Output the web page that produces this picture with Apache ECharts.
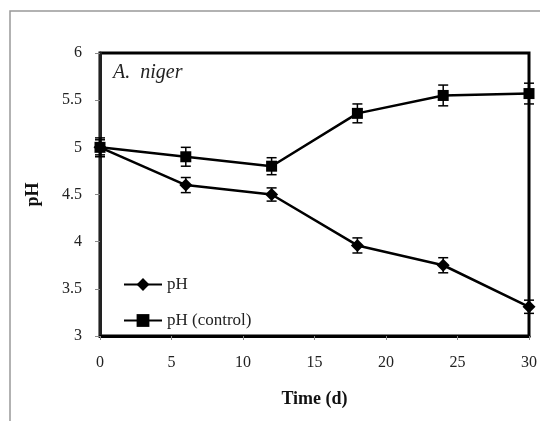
<!DOCTYPE html>
<html>
<head>
<meta charset="UTF-8">
<title></title>
<script src="https://cdn.jsdelivr.net/npm/echarts@6/dist/echarts.min.js"></script>
<style>
* { padding: 0; margin: 0; }
#main { width: 540px; height: 421px; background: #fff; }
</style>
</head>
<body>
<div id="main"></div>
<script>
var days = [0, 6, 12, 18, 24, 30];
var phValues = [5.0, 4.6, 4.5, 3.96, 3.75, 3.31];
var phErrors = [0.08, 0.08, 0.07, 0.08, 0.08, 0.07];
var controlValues = [5.0, 4.9, 4.8, 5.36, 5.55, 5.57];
var controlErrors = [0.1, 0.1, 0.09, 0.1, 0.11, 0.11];

var font = 'Liberation Serif';

function pairs(xs, ys) {
  return xs.map(function (x, i) { return [x, ys[i]]; });
}
function errData(xs, ys, es) {
  return xs.map(function (x, i) { return [x, ys[i] - es[i], ys[i] + es[i]]; });
}
function errRender(params, api) {
  var x = api.value(0);
  var lo = api.coord([x, api.value(1)]);
  var hi = api.coord([x, api.value(2)]);
  var w = 5;
  var st = { stroke: '#000', lineWidth: 1.5 };
  return {
    type: 'group',
    children: [
      { type: 'line', shape: { x1: lo[0], y1: lo[1], x2: hi[0], y2: hi[1] }, style: st },
      { type: 'line', shape: { x1: lo[0] - w, y1: lo[1], x2: lo[0] + w, y2: lo[1] }, style: st },
      { type: 'line', shape: { x1: hi[0] - w, y1: hi[1], x2: hi[0] + w, y2: hi[1] }, style: st }
    ]
  };
}

var chart = echarts.init(document.getElementById('main'));
chart.setOption({
  animation: false,
  textStyle: { fontFamily: font },
  graphic: [
    { type: 'polyline', shape: { points: [[10, 421], [10, 11], [540, 11]] },
      style: { stroke: '#999', lineWidth: 1.5, fill: null } },
    { type: 'text', left: 113, top: 63,
      style: { text: 'A.  niger', font: 'italic 20px "Liberation Serif"', fill: '#222' } }
  ],
  grid: { left: 100, right: 10, top: 53, bottom: 85, show: true,
    borderColor: '#000', borderWidth: 3 },
  legend: {
    data: ['pH', 'pH (control)'],
    orient: 'vertical', left: 118, top: 271, itemGap: 19,
    itemWidth: 38, itemHeight: 16, itemStyle: { borderWidth: 0 },
    textStyle: { fontFamily: font, fontSize: 17, color: '#222' }
  },
  xAxis: {
    type: 'value', min: 0, max: 30, interval: 5,
    name: 'Time (d)', nameLocation: 'middle', nameGap: 54,
    nameTextStyle: { fontFamily: font, fontSize: 18, fontWeight: 'bold', color: '#111' },
    axisLine: { show: true, lineStyle: { color: '#000', width: 3 } },
    axisTick: { show: true, inside: false, length: 4, lineStyle: { color: '#888' } },
    axisLabel: { fontFamily: font, fontSize: 16, color: '#222', margin: 19 },
    splitLine: { show: false }
  },
  yAxis: {
    type: 'value', min: 3, max: 6, interval: 0.5,
    name: 'pH', nameLocation: 'middle', nameGap: 58,
    nameTextStyle: { fontFamily: font, fontSize: 18, fontWeight: 'bold', color: '#111' },
    axisLine: { show: true, lineStyle: { color: '#222', width: 3 } },
    axisTick: { show: true, inside: false, length: 5, lineStyle: { color: '#888' } },
    axisLabel: { fontFamily: font, fontSize: 16, color: '#222', margin: 18 },
    splitLine: { show: false }
  },
  series: [
    { name: 'pH', type: 'line', data: pairs(days, phValues),
      symbol: 'diamond', symbolSize: 13,
      itemStyle: { color: '#000' }, lineStyle: { color: '#000', width: 2.5 }, z: 3 },
    { name: 'pH (control)', type: 'line', data: pairs(days, controlValues),
      symbol: 'rect', symbolSize: 11,
      itemStyle: { color: '#000' }, lineStyle: { color: '#000', width: 2.5 }, z: 3 },
    { name: 'pH err', type: 'custom', renderItem: errRender,
      data: errData(days, phValues, phErrors), z: 4 },
    { name: 'control err', type: 'custom', renderItem: errRender,
      data: errData(days, controlValues, controlErrors), z: 4 }
  ]
});
</script>
</body>
</html>
